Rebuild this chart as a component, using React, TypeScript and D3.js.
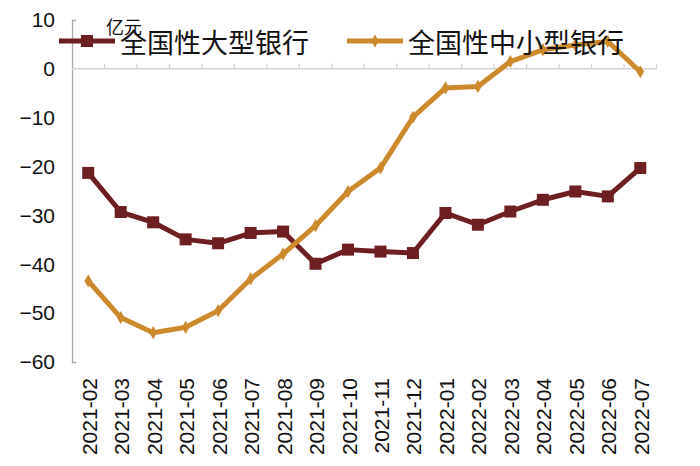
import { useEffect, useRef } from 'react'
import * as d3 from 'd3'

// monthly values, 亿元
const categories = [
  '2021-02', '2021-03', '2021-04', '2021-05', '2021-06', '2021-07', '2021-08', '2021-09', '2021-10',
  '2021-11', '2021-12', '2022-01', '2022-02', '2022-03', '2022-04', '2022-05', '2022-06', '2022-07',
]
const largeBanks = [-21.3, -29.3, -31.4, -34.9, -35.7, -33.6, -33.3, -39.9, -37.0, -37.4, -37.7, -29.5, -31.9, -29.2, -26.8, -25.1, -26.1, -20.3]
const smallBanks = [-43.4, -50.9, -54.0, -52.9, -49.5, -43.0, -37.9, -32.1, -25.1, -20.3, -9.9, -3.9, -3.6, 1.5, 3.9, 4.9, 5.6, -0.6]
const yTicks = [10, 0, -10, -20, -30, -40, -50, -60]
const seriesNames = ['全国性大型银行', '全国性中小型银行']
const unitLabel = '亿元'

const WIDTH = 700
const HEIGHT = 466
const RED = '#6e1f22'
const GOLD = '#cc8a2c'
const NUM_FONT = '"Liberation Sans Narrow", "Liberation Sans", Arial, sans-serif'
const CJK_FONT = '"Noto Sans CJK SC", sans-serif'

export default function App() {
  const svgRef = useRef<SVGSVGElement>(null)

  useEffect(() => {
    const svg = d3.select(svgRef.current)
    svg.selectAll('*').remove()

    const x = d3.scaleBand().domain(categories).range([72, 656.5])
    const y = d3.scaleLinear().domain([-60, 10]).range([362, 20])
    const cx = (c: string) => (x(c) ?? 0) + x.bandwidth() / 2

    // y axis (ticks only at the ends, pointing inward)
    const yAxis = svg.append('g')
      .attr('transform', `translate(${x.range()[0]},0)`)
      .call(d3.axisLeft(y).tickValues(yTicks).tickSizeInner(0).tickSizeOuter(-4).tickPadding(17))
    yAxis.select('.domain').attr('stroke', '#a8a8a8').attr('stroke-width', 1.3)
    yAxis.selectAll('text')
      .attr('font-family', NUM_FONT)
      .attr('font-size', 21)
      .attr('fill', '#111')

    // horizontal category axis sitting at y = 0
    const boundaries = categories.map(c => x(c) ?? 0).concat([x.range()[1]])
    const xAxis = svg.append('g')
    xAxis.append('line')
      .attr('x1', x.range()[0]).attr('x2', x.range()[1])
      .attr('y1', y(0)).attr('y2', y(0))
      .attr('stroke', '#d4d4d4').attr('stroke-width', 1.5)
    xAxis.selectAll('line.tick')
      .data(boundaries.slice(1))
      .join('line')
      .attr('class', 'tick')
      .attr('x1', d => d).attr('x2', d => d)
      .attr('y1', y(0)).attr('y2', y(0) - 5)
      .attr('stroke', '#d4d4d4').attr('stroke-width', 1.3)

    // category labels, below the plot
    svg.append('g')
      .selectAll('text')
      .data(categories)
      .join('text')
      .attr('transform', d => `translate(${cx(d) + 1},378) rotate(-90)`)
      .attr('text-anchor', 'end')
      .attr('dominant-baseline', 'central')
      .attr('font-family', NUM_FONT)
      .attr('font-size', 21)
      .attr('fill', '#111')
      .text(d => d)

    // unit label
    svg.append('text')
      .attr('x', 106).attr('y', 34)
      .attr('font-family', CJK_FONT)
      .attr('font-size', 18)
      .attr('fill', '#111')
      .text(unitLabel)

    const line = d3.line<number>()
      .x((_, i) => cx(categories[i]))
      .y(d => y(d))

    // large banks
    svg.append('path')
      .datum(largeBanks)
      .attr('d', line)
      .attr('fill', 'none')
      .attr('stroke', RED)
      .attr('stroke-width', 5)
      .attr('stroke-linejoin', 'round')
    svg.append('g')
      .selectAll('rect')
      .data(largeBanks)
      .join('rect')
      .attr('x', (_, i) => cx(categories[i]) - 6)
      .attr('y', d => y(d) - 6)
      .attr('width', 12).attr('height', 12)
      .attr('fill', RED)

    // small & mid banks
    svg.append('path')
      .datum(smallBanks)
      .attr('d', line)
      .attr('fill', 'none')
      .attr('stroke', GOLD)
      .attr('stroke-width', 5)
      .attr('stroke-linejoin', 'round')
    const diamond = d3.symbol().type(d3.symbolDiamond).size(50)
    svg.append('g')
      .selectAll('path')
      .data(smallBanks)
      .join('path')
      .attr('transform', (d, i) => `translate(${cx(categories[i])},${y(d)})`)
      .attr('d', diamond)
      .attr('fill', GOLD)

    // legend
    const legendY = 41
    const items = [
      { name: seriesNames[0], color: RED, x0: 59, marker: 'square' },
      { name: seriesNames[1], color: GOLD, x0: 347, marker: 'diamond' },
    ]
    items.forEach(it => {
      const g = svg.append('g')
      g.append('line')
        .attr('x1', it.x0).attr('x2', it.x0 + 56)
        .attr('y1', legendY).attr('y2', legendY)
        .attr('stroke', it.color).attr('stroke-width', 5)
      if (it.marker === 'square') {
        g.append('rect')
          .attr('x', it.x0 + 28 - 6).attr('y', legendY - 6)
          .attr('width', 12).attr('height', 12)
          .attr('fill', it.color)
      } else {
        g.append('path')
          .attr('transform', `translate(${it.x0 + 28},${legendY})`)
          .attr('d', diamond)
          .attr('fill', it.color)
      }
      g.append('text')
        .attr('x', it.x0 + 61)
        .attr('y', legendY)
        .attr('dominant-baseline', 'central')
        .attr('font-family', CJK_FONT)
        .attr('font-size', 27)
        .attr('fill', '#111')
        .text(it.name)
    })
  }, [])

  return (
    <svg
      ref={svgRef}
      width={WIDTH}
      height={HEIGHT}
      style={{ position: 'absolute', left: 0, top: 0, background: '#fff' }}
    />
  )
}
